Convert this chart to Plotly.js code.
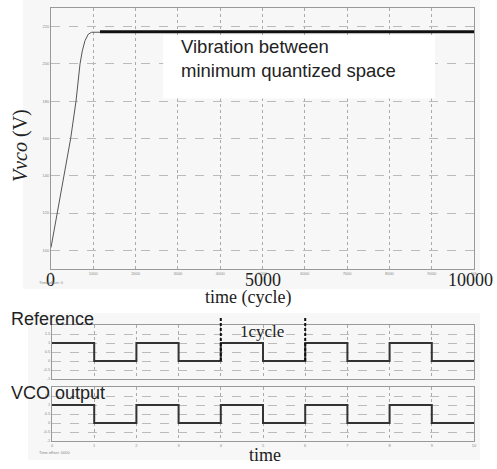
<!DOCTYPE html>
<html>
<head>
<meta charset="utf-8">
<script src="https://cdn.plot.ly/plotly-3.0.1.min.js"></script>
<style>html,body{margin:0;padding:0;background:#fff;}#chart{width:497px;height:469px;}</style>
</head>
<body>
<div id="chart"></div>
<script>
// ---- data ----
const vcoTime = [0, 150, 307, 465, 591, 686, 740, 804, 883, 962, 1158];
const vcoVolt = [101.5, 120, 140, 160, 180, 200, 207, 212.5, 216, 217, 217];
const plateauTime = [1158, 10000];
const plateauVolt = [217.2, 217.2];
const mainXTicks = [0, 1000, 2000, 3000, 4000, 5000, 6000, 7000, 8000, 9000, 10000];
const mainYTicks = [100, 120, 140, 160, 180, 200, 220];
const waveTime = [0, 1, 2, 3, 4, 5, 6, 7, 8, 9, 10];
const refWave = [1, 0, 1, 0, 1, 0, 1, 0, 1, 0, 0];
const vcoWave = [1, 0, 1, 0, 1, 0, 1, 0, 1, 0, 0];
const waveYTicks = [-1, -0.5, 0, 0.5, 1, 1.5];
const waveYLabels = ['-1', '-0.5', '0', '0.5', '1', '1.5'];
const cycleMarks = [4, 6];

const W = 497, H = 469;
const px = v => v / W;
const py = v => 1 - v / H;

const tickFont = {family: 'Liberation Sans, Arial', size: 4, color: '#888'};
const serif = 'Liberation Serif, Times New Roman, serif';
const sans = 'Liberation Sans, Arial, sans-serif';

const traces = [
  {x: vcoTime, y: vcoVolt, type: 'scatter', mode: 'lines', xaxis: 'x', yaxis: 'y',
   line: {color: '#555', width: 1}, hoverinfo: 'skip'},
  {x: plateauTime, y: plateauVolt, type: 'scatter', mode: 'lines', xaxis: 'x', yaxis: 'y',
   line: {color: '#111', width: 3}, hoverinfo: 'skip'},
  {x: waveTime, y: refWave, type: 'scatter', mode: 'lines', xaxis: 'x2', yaxis: 'y2',
   line: {color: '#333', width: 2, shape: 'hv'}, hoverinfo: 'skip'},
  {x: waveTime, y: vcoWave, type: 'scatter', mode: 'lines', xaxis: 'x3', yaxis: 'y3',
   line: {color: '#333', width: 2, shape: 'hv'}, hoverinfo: 'skip'}
];

const axBase = {
  showline: true, mirror: true, linecolor: '#999', linewidth: 1,
  ticks: '', zeroline: false, gridcolor: '#aaa', gridwidth: 1,
  tickfont: tickFont, automargin: false, fixedrange: true
};

const shapes = [
  {type: 'rect', xref: 'paper', yref: 'paper', x0: px(23), x1: px(480), y0: py(289), y1: py(0),
   fillcolor: '#f7f7f7', line: {width: 0}, layer: 'below'},
  {type: 'rect', xref: 'paper', yref: 'paper', x0: px(28), x1: px(480), y0: py(460), y1: py(313),
   fillcolor: '#f7f7f7', line: {width: 0}, layer: 'below'},
  {type: 'rect', xref: 'x', yref: 'y', x0: 2650, x1: 9080, y0: 181.5, y1: 215.5,
   fillcolor: '#ffffff', line: {width: 0}, layer: 'between'}
];
cycleMarks.forEach(t => {
  shapes.push({type: 'line', xref: 'x2', yref: 'paper', x0: t, x1: t, y0: py(361), y1: py(317),
    line: {color: '#111', width: 2, dash: '3px,2px'}, layer: 'above'});
});

const layout = {
  width: W, height: H,
  margin: {l: 0, r: 0, t: 0, b: 0},
  paper_bgcolor: '#ffffff', plot_bgcolor: '#ffffff',
  showlegend: false,
  xaxis: Object.assign({}, axBase, {domain: [px(51), px(474)], range: [0, 10000],
    tickvals: mainXTicks, griddash: 'dot', anchor: 'y'}),
  yaxis: Object.assign({}, axBase, {domain: [py(269), py(8)], range: [90, 230],
    tickvals: mainYTicks, griddash: 'dash', gridcolor: '#bbb', anchor: 'x'}),
  xaxis2: Object.assign({}, axBase, {domain: [px(52), px(474)], range: [0, 10],
    tickvals: waveTime, showticklabels: false, griddash: 'dot', anchor: 'y2'}),
  yaxis2: Object.assign({}, axBase, {domain: [py(379), py(325)], range: [-1, 2],
    tickvals: waveYTicks, ticktext: waveYLabels, griddash: 'dash', gridcolor: '#bbb', anchor: 'x2'}),
  xaxis3: Object.assign({}, axBase, {domain: [px(52), px(474)], range: [0, 10],
    tickvals: waveTime, griddash: 'dot', anchor: 'y3'}),
  yaxis3: Object.assign({}, axBase, {domain: [py(441), py(387)], range: [-1, 2],
    tickvals: waveYTicks, ticktext: waveYLabels, griddash: 'dash', gridcolor: '#bbb', anchor: 'x3'}),
  shapes: shapes,
  annotations: [
    {text: 'Vibration between<br>minimum quantized space', xref: 'paper', yref: 'paper',
     x: px(179), y: py(59), xanchor: 'left', yanchor: 'middle', align: 'left', showarrow: false,
     font: {family: sans, size: 18.5, color: '#222'}},
    {text: '<i>Vvco</i> (V)', xref: 'paper', yref: 'paper', x: px(20), y: py(146),
     textangle: -90, showarrow: false, xanchor: 'center', yanchor: 'middle',
     font: {family: serif, size: 20, color: '#222'}},
    {text: '0', xref: 'paper', yref: 'paper', x: px(50), y: py(280), showarrow: false,
     xanchor: 'center', yanchor: 'middle', font: {family: serif, size: 18, color: '#222'}},
    {text: '5000', xref: 'paper', yref: 'paper', x: px(263), y: py(280), showarrow: false,
     xanchor: 'center', yanchor: 'middle', font: {family: serif, size: 18, color: '#222'}},
    {text: '10000', xref: 'paper', yref: 'paper', x: px(470), y: py(280), showarrow: false,
     xanchor: 'center', yanchor: 'middle', font: {family: serif, size: 18, color: '#222'}},
    {text: 'time (cycle)', xref: 'paper', yref: 'paper', x: px(248), y: py(297), showarrow: false,
     xanchor: 'center', yanchor: 'middle', font: {family: serif, size: 18, color: '#222'}},
    {text: 'Time offset: 0', xref: 'paper', yref: 'paper', x: px(37), y: py(282), showarrow: false,
     xanchor: 'left', yanchor: 'middle', font: {family: sans, size: 4, color: '#888'}},
    {text: 'Reference', xref: 'paper', yref: 'paper', x: px(9), y: py(319), showarrow: false,
     xanchor: 'left', yanchor: 'middle', font: {family: sans, size: 18, color: '#222'}},
    {text: '1cycle', xref: 'paper', yref: 'paper', x: px(262), y: py(331), showarrow: false,
     xanchor: 'center', yanchor: 'middle', font: {family: serif, size: 17, color: '#222'}},
    {text: 'VCO output', xref: 'paper', yref: 'paper', x: px(9), y: py(393), showarrow: false,
     xanchor: 'left', yanchor: 'middle', font: {family: sans, size: 18, color: '#222'}},
    {text: 'Time offset: 0000', xref: 'paper', yref: 'paper', x: px(37), y: py(452), showarrow: false,
     xanchor: 'left', yanchor: 'middle', font: {family: sans, size: 4, color: '#888'}},
    {text: 'time', xref: 'paper', yref: 'paper', x: px(265), y: py(455), showarrow: false,
     xanchor: 'center', yanchor: 'middle', font: {family: serif, size: 18, color: '#222'}}
  ]
};

Plotly.newPlot('chart', traces, layout, {staticPlot: true, displayModeBar: false});
</script>
</body>
</html>
